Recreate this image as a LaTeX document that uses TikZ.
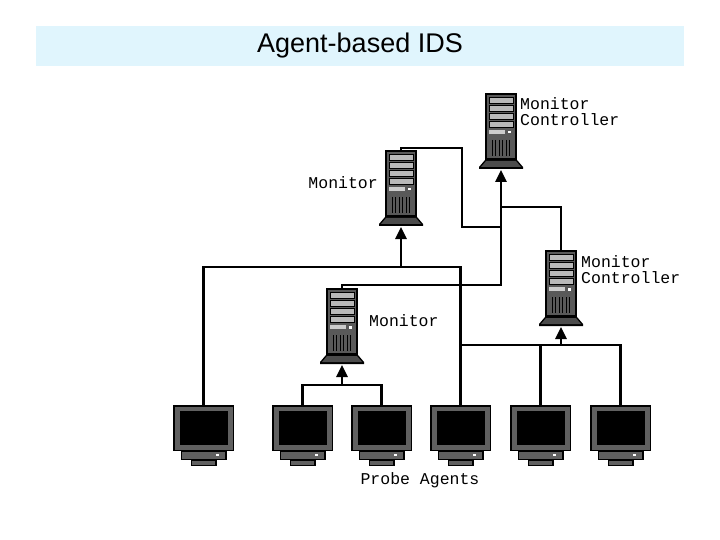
\documentclass[tikz,border=0pt]{standalone}
\usepackage{fontspec}
\setmainfont{Liberation Sans}
\newfontfamily\mono{Liberation Mono}
\usetikzlibrary{arrows.meta}
\begin{document}
\begin{tikzpicture}[x=1pt,y=-1pt,
  wire/.style={line width=2.6pt,line cap=rect},
  feed/.style={line width=2.6pt,-{Triangle[width=11pt,length=12pt]}},
  lbl/.style={font=\mono\fontsize{16.5}{16}\selectfont,inner sep=0pt,align=left},
  server/.pic={
    \fill[black] (-16,0) rectangle (16,67);
    \fill[gray!70!black] (-14,2) rectangle (14,65);
    \foreach \y in {4,12,20,28}{\fill[gray!55] (-12,\y) rectangle (12,\y+6.5);
      \draw[black,line width=0.6pt] (-12,\y) rectangle (12,\y+6.5);}
    \fill[gray!40] (-12,37) rectangle (4,41);
    \fill[white] (7,38) rectangle (10,40.5);
    \foreach \x in {-9,-5.5,-2,1.5,5,8.5}{\draw[black,line width=1pt] (\x,47) -- (\x,63);}
    \fill[black] (-16,67) -- (16,67) -- (22,74) -- (22,76) -- (-22,76) -- (-22,74) -- cycle;
    \fill[gray!60!black] (-15,68) -- (15,68) -- (20,74) -- (-20,74) -- cycle;
    \coordinate (-top) at (0,0);
    \coordinate (-bot) at (0,77);
  },
  screen/.pic={
    \fill[black] (-30.5,0) rectangle (30.5,46);
    \fill[gray!75!black] (-29,1.5) rectangle (29,44.5);
    \fill[black] (-24,6) rectangle (24,40);
    \fill[black] (-23,46) rectangle (23,55);
    \fill[gray!75!black] (-21.5,47) rectangle (21.5,53.5);
    \fill[white] (12,48.5) rectangle (15,51);
    \fill[black] (-13,55) rectangle (13,61);
    \fill[gray!75!black] (-11.5,55.5) rectangle (11.5,59.5);
    \coordinate (-top) at (0,0);
  }]
\useasboundingbox (0,0) rectangle (720,540);
\fill[white] (0,0) rectangle (720,540);
\fill[cyan!12] (36,26) rectangle (684,66);
\node[font=\fontsize{27}{29}\selectfont] (title) at (360,46) {Agent-based IDS};

\pic (mc1) at (501,93) {server};
\pic (m1) at (401,150) {server};
\pic (mc2) at (561,250) {server};
\pic (m3) at (342,288) {server};

\node[lbl,anchor=north west] (lmc1) at (520,97) {Monitor\\Controller};
\node[lbl,anchor=east] (lm1) at (378,183) {Monitor};
\node[lbl,anchor=north west] (lmc2) at (581,255) {Monitor\\Controller};
\node[lbl,anchor=west] (lm3) at (369,321) {Monitor};

\pic (p1) at (203.5,405) {screen};
\pic (p2) at (302.5,405) {screen};
\pic (p3) at (381.5,405) {screen};
\pic (p4) at (460.5,405) {screen};
\pic (p5) at (540.5,405) {screen};
\pic (p6) at (620.5,405) {screen};
\node[lbl] (probe) at (420,480) {Probe Agents};

\coordinate (j1) at (401,267);
\coordinate (j2) at (342,385);
\coordinate (j3) at (561,345);
\coordinate (j4) at (501,227);
\coordinate (j5) at (501,285);
\coordinate (j6) at (501,207);

\draw[wire] (p1-top) |- (j1) -| (p4-top);
\draw[feed] (j1) -- (m1-bot);
\draw[wire] (p2-top) |- (j2) -| (p3-top);
\draw[feed] (j2) -- (m3-bot);
\draw[wire] (p4-top |- j3) -- (p6-top |- j3) -- (p6-top);
\draw[wire] (p5-top) -- (p5-top |- j3);
\draw[feed] (j3) -- (mc2-bot);
\draw[wire] (m1-top) -- ++(0,-2) -| (462,227) -- (j4);
\draw[wire] (m3-top) -- ++(0,-3) -- (j5);
\draw[wire] (mc2-top) |- (j6);
\draw[feed] (j5) -- (mc1-bot);
\end{tikzpicture}
\end{document}
